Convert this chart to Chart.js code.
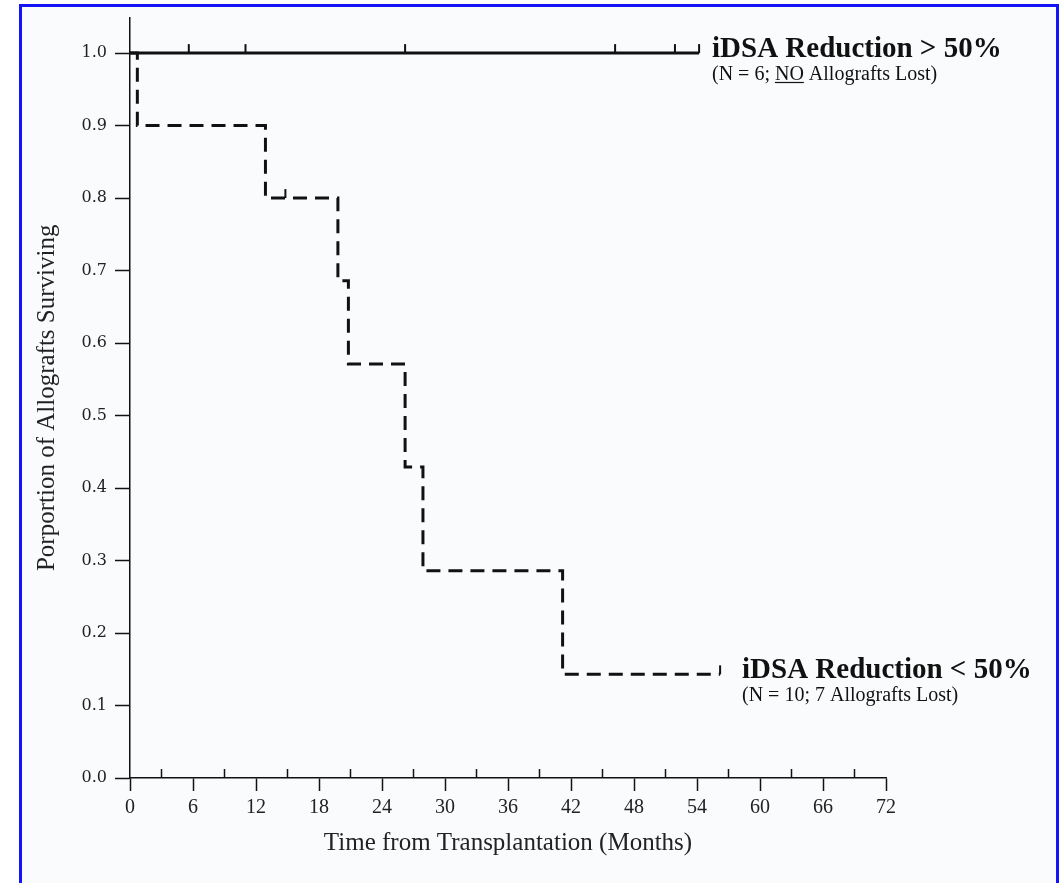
<!DOCTYPE html>
<html>
<head>
<meta charset="utf-8">
<script src="https://cdn.jsdelivr.net/npm/chart.js@4/dist/chart.umd.min.js"></script>
<style>
  html, body { margin: 0; padding: 0; background: #fff; }
  #frame { position: absolute; left: 19px; top: 4px; width: 1034px; height: 876px;
           border: 3px solid #1414f5; border-bottom-color: #6a6cf5; background: #f9fbfd; }
  #wrap { position: absolute; left: 0; top: 0; width: 1062px; height: 883px; }
</style>
</head>
<body>
<div id="frame"></div>
<div id="wrap"><canvas id="chart" width="1062" height="883"></canvas></div>
<script>
// axis ticks
const xTicks = [0, 6, 12, 18, 24, 30, 36, 42, 48, 54, 60, 66, 72];
const xMinorTicks = [3, 9, 15, 21, 27, 33, 39, 45, 51, 57, 63, 69];
const yTicks = [0.0, 0.1, 0.2, 0.3, 0.4, 0.5, 0.6, 0.7, 0.8, 0.9, 1.0];

// iDSA reduction > 50% (no losses)
const highTimes = [0, 54.2];
const highSurv  = [1.0, 1.0];
const highCensor = [5.6, 11.0, 26.2, 46.2, 51.9, 54.2];

// iDSA reduction < 50%
const lowTimes = [0, 0.7, 12.9, 19.8, 20.8, 26.2, 27.9, 41.2, 56.2];
const lowSurv  = [1.0, 0.9, 0.8, 0.686, 0.571, 0.429, 0.286, 0.143, 0.143];
const lowCensor     = [14.8, 56.2];
const lowCensorSurv = [0.8, 0.143];

const serif = '"Liberation Serif", "Times New Roman", serif';
const ink = '#111';

const overlay = {
  id: 'overlay',
  afterDatasetsDraw(chart) {
    const { ctx, scales: { x, y } } = chart;
    ctx.save();
    ctx.strokeStyle = ink;
    ctx.fillStyle = ink;

    // censor marks
    ctx.lineWidth = 2;
    const mark = (t, s) => {
      const px = x.getPixelForValue(t), py = y.getPixelForValue(s);
      ctx.beginPath(); ctx.moveTo(px, py); ctx.lineTo(px, py - 9); ctx.stroke();
    };
    highCensor.forEach(t => mark(t, 1.0));
    lowCensor.forEach((t, i) => mark(t, lowCensorSurv[i]));

    // small upward ticks on the x axis
    ctx.lineWidth = 1.5;
    const y0 = y.getPixelForValue(0);
    xMinorTicks.forEach(t => {
      const px = x.getPixelForValue(t);
      ctx.beginPath(); ctx.moveTo(px, y0); ctx.lineTo(px, y0 - 9); ctx.stroke();
    });

    // group labels
    const label = (title, n, lost, underline, left, base) => {
      ctx.textAlign = 'left';
      ctx.textBaseline = 'alphabetic';
      ctx.font = 'bold 29px ' + serif;
      ctx.fillText(title, left, base);
      ctx.font = '20px ' + serif;
      let cx = left;
      const sub = base + 23;
      const pre = '(N = ' + n + '; ';
      ctx.fillText(pre, cx, sub); cx += ctx.measureText(pre).width;
      ctx.fillText(lost, cx, sub);
      if (underline) {
        const w = ctx.measureText(lost).width;
        ctx.lineWidth = 1.2;
        ctx.beginPath(); ctx.moveTo(cx, sub + 2.5); ctx.lineTo(cx + w, sub + 2.5); ctx.stroke();
      }
      cx += ctx.measureText(lost).width;
      ctx.fillText(' Allografts Lost)', cx, sub);
    };
    label('iDSA Reduction > 50%', 6, 'NO', true, 712, 57);
    label('iDSA Reduction < 50%', 10, '7', false, 742, 678);
    ctx.restore();
  }
};

new Chart(document.getElementById('chart'), {
  type: 'line',
  data: {
    datasets: [
      {
        label: 'iDSA Reduction > 50%',
        data: highTimes.map((t, i) => ({ x: t, y: highSurv[i] })),
        borderColor: ink,
        borderWidth: 3,
        pointRadius: 0,
        stepped: true,
      },
      {
        label: 'iDSA Reduction < 50%',
        data: lowTimes.map((t, i) => ({ x: t, y: lowSurv[i] })),
        borderColor: ink,
        borderWidth: 3,
        borderDash: [14, 8],
        pointRadius: 0,
        stepped: true,
      },
    ],
  },
  options: {
    responsive: false,
    animation: false,
    layout: { padding: { left: 0, right: 176, top: 12, bottom: 0 } },
    plugins: { legend: { display: false }, tooltip: { enabled: false } },
    scales: {
      x: {
        type: 'linear',
        min: 0,
        max: 72,
        afterBuildTicks(scale) { scale.ticks = xTicks.map(v => ({ value: v })); },
        afterFit(scale) { scale.height = 105; },
        grid: { drawOnChartArea: false, tickLength: 13, tickColor: ink, tickWidth: 1.5 },
        border: { color: ink, width: 1.5 },
        ticks: { color: '#222', padding: 5, maxRotation: 0, font: { size: 20, family: serif },
                 callback: v => String(v) },
        title: { display: true, text: 'Time from Transplantation (Months)', color: '#222',
                 padding: { top: 0, bottom: 25 }, font: { size: 25, family: serif } },
      },
      y: {
        type: 'linear',
        min: 0,
        max: 1.049,
        afterBuildTicks(scale) { scale.ticks = yTicks.map(v => ({ value: v })); },
        afterFit(scale) { scale.width = 130; },
        grid: { drawOnChartArea: false, tickLength: 15, tickColor: ink, tickWidth: 1.5 },
        border: { color: ink, width: 1.5 },
        ticks: { color: '#222', padding: 8, font: { size: 16, family: '"DejaVu Serif", serif' },
                 callback: v => v.toFixed(1) },
        title: { display: true, text: 'Porportion of Allografts Surviving', color: '#222',
                 padding: { top: 32, bottom: 0 }, font: { size: 25, family: serif } },
      },
    },
  },
  plugins: [overlay],
});
</script>
</body>
</html>
